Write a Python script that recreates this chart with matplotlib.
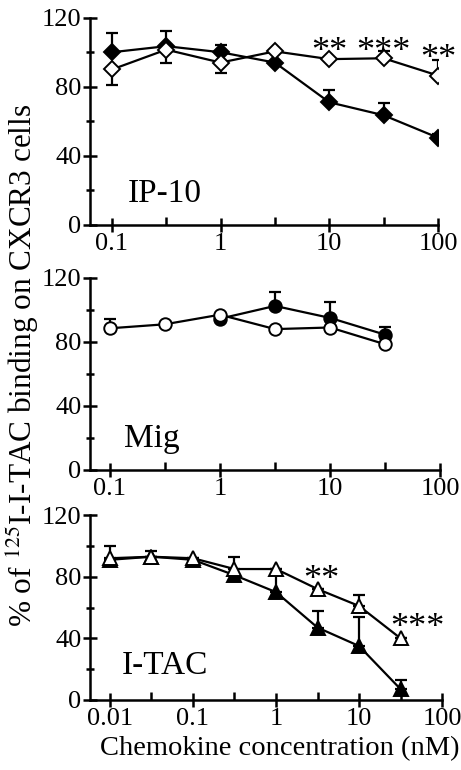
import matplotlib
matplotlib.use("Agg")
import matplotlib.pyplot as plt
import matplotlib.ticker as mticker
import numpy as np

plt.rcParams['font.family'] = ['Liberation Serif', 'DejaVu Serif']
plt.rcParams['mathtext.fontset'] = 'stix'

# IP-10 panel
ip_x = [0.1, 0.316, 1, 3.16, 10, 31.6, 100]
ip_filled = [100, 103.5, 100, 94, 71, 63.5, 50.5]
ip_filled_err = [11, 9, 4, 0, 7, 7, 2]
ip_open = [90, 101.5, 94, 100.5, 96, 96.5, 86.5]
ip_open_lo = [9, 8, 6, 0, 0, 0, 0]
ip_open_hi = [0, 0, 0, 0, 0, 4, 9]

# Mig panel
mig_x_open = [0.1, 0.316, 1, 3.16, 10, 31.6]
mig_open = [88.5, 91, 97, 88, 89, 78.5]
mig_open_err = [6, 0, 0, 0, 0, 0]
mig_x_filled = [1, 3.16, 10, 31.6]
mig_filled = [94.5, 102.5, 95, 84.5]
mig_filled_err = [0, 9, 10, 5]

# I-TAC panel
it_x = [0.01, 0.0316, 0.1, 0.316, 1, 3.16, 10, 31.6]
it_open = [92, 93, 92, 85, 85, 72, 61, 40]
it_open_err = [8, 4, 0, 8, 0, 0, 7, 0]
it_filled = [91, 93, 91, 81, 70, 47, 35, 7]
it_filled_err = [0, 0, 0, 0, 11, 11, 19, 6]

fig = plt.figure(figsize=(4.61, 7.70), dpi=100)


def style_axis(ax, xmin, majors, labels, minors):
    ax.set_xscale('log')
    ax.set_xlim(xmin, 100)
    ax.set_ylim(0, 120)
    for s in ['top', 'right']:
        ax.spines[s].set_visible(False)
    for s in ['left', 'bottom']:
        ax.spines[s].set_linewidth(1.8)
    ax.xaxis.set_major_locator(mticker.FixedLocator(majors))
    ax.xaxis.set_major_formatter(mticker.FixedFormatter(labels))
    ax.xaxis.set_minor_locator(mticker.FixedLocator(minors))
    ax.xaxis.set_minor_formatter(mticker.NullFormatter())
    ax.set_yticks([0, 40, 80, 120])
    ax.set_yticks([20, 60, 100], minor=True)
    ax.tick_params(axis='both', which='major', direction='inout', length=10,
                   width=1.8, labelsize=19, pad=1)
    ax.tick_params(axis='x', which='minor', direction='in', length=6, width=1.8)
    ax.tick_params(axis='y', which='minor', direction='inout', length=6, width=1.8)
    ax.patch.set_alpha(0)


def series(ax, x, y, lo, hi, marker, filled):
    ax.errorbar(x, y, yerr=[lo, hi], fmt='none', ecolor='black', elinewidth=1.6,
                capsize=4, capthick=1.6, zorder=2)
    ms = {'o': 9, 'D': 8.5, '^': 10}[marker]
    ax.plot(x, y, color='black', lw=1.6, marker=marker, markersize=ms,
            markerfacecolor='black' if filled else 'white', markeredgecolor='black',
            markeredgewidth=1.4, zorder=3)


ax1 = fig.add_axes([0.195, 0.708, 0.755, 0.269])
style_axis(ax1, 0.0627, [0.1, 1, 10, 100], ['0.1', '1', '10', '100'], [0.316, 3.16, 31.6])
series(ax1, ip_x, ip_filled, [0] * 7, ip_filled_err, 'D', True)
series(ax1, ip_x, ip_open, ip_open_lo, ip_open_hi, 'D', False)
ax1.text(0.14, 13, 'IP-10', fontsize=24)
ax1.text(10, 95, '**', fontsize=26, ha='center')
ax1.text(31.6, 95, '***', fontsize=26, ha='center')
ax1.text(100, 91, '**', fontsize=26, ha='center')

ax2 = fig.add_axes([0.195, 0.390, 0.760, 0.249])
style_axis(ax2, 0.066, [0.1, 1, 10, 100], ['0.1', '1', '10', '100'], [0.316, 3.16, 31.6])
series(ax2, mig_x_filled, mig_filled, [0] * 4, mig_filled_err, 'o', True)
series(ax2, mig_x_open, mig_open, [0] * 6, mig_open_err, 'o', False)
ax2.text(0.135, 14, 'Mig', fontsize=24)

ax3 = fig.add_axes([0.195, 0.091, 0.764, 0.240])
style_axis(ax3, 0.00574, [0.01, 0.1, 1, 10, 100], ['0.01', '0.1', '1', '10', '100'],
           [0.0316, 0.316, 3.16, 31.6])
series(ax3, it_x, it_filled, [0] * 8, it_filled_err, '^', True)
series(ax3, it_x, it_open, [0] * 8, it_open_err, '^', False)
ax3.text(0.014, 17, 'I-TAC', fontsize=24)
ax3.text(3.5, 72, '**', fontsize=26, ha='center')
ax3.text(51, 41, '***', fontsize=26, ha='center')

fig.text(0.607, 0.028, 'Chemokine concentration (nM)', fontsize=20.5,
         ha='center', va='center')
fig.text(0.05, 0.525, r'% of $^{125}$I-I-TAC binding on CXCR3 cells', rotation=90,
         fontsize=22.5, ha='center', va='center')

fig.savefig('out.png', dpi=100, facecolor='white')
